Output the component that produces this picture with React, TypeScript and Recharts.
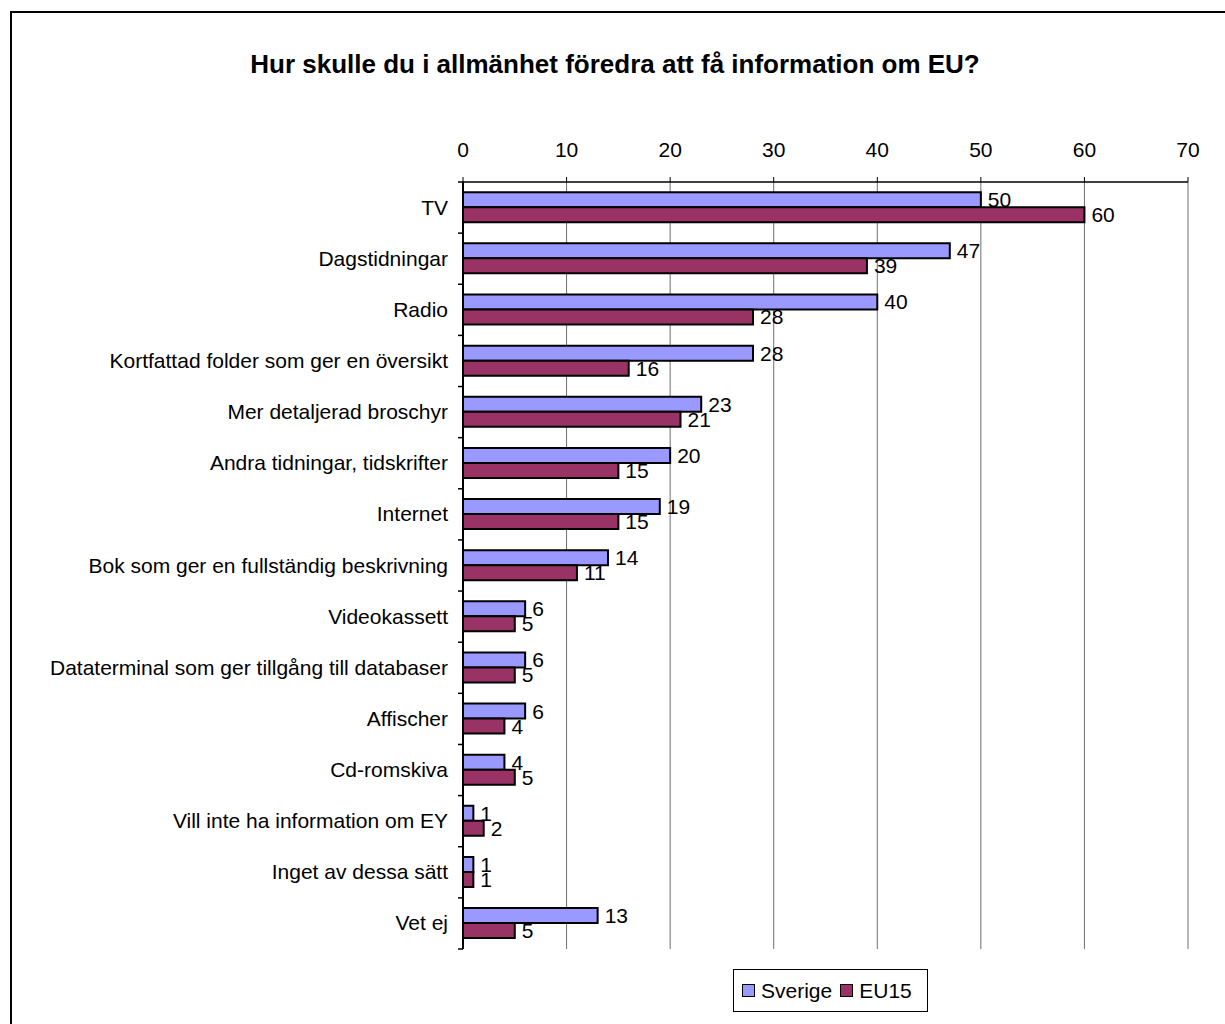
import { Bar, BarChart, CartesianGrid, LabelList, XAxis, YAxis } from "recharts";

const CATEGORIES = [
  "TV",
  "Dagstidningar",
  "Radio",
  "Kortfattad folder som ger en översikt",
  "Mer detaljerad broschyr",
  "Andra tidningar, tidskrifter",
  "Internet",
  "Bok som ger en fullständig beskrivning",
  "Videokassett",
  "Dataterminal som ger tillgång till databaser",
  "Affischer",
  "Cd-romskiva",
  "Vill inte ha information om EY",
  "Inget av dessa sätt",
  "Vet ej",
];

const SVERIGE = [50, 47, 40, 28, 23, 20, 19, 14, 6, 6, 6, 4, 1, 1, 13];
const EU15 = [60, 39, 28, 16, 21, 15, 15, 11, 5, 5, 4, 5, 2, 1, 5];

const X_TICKS = [0, 10, 20, 30, 40, 50, 60, 70];

const TITLE = "Hur skulle du i allmänhet föredra att få information om EU?";

const COLORS = { sverige: "#9999FF", eu15: "#993366" };

const FONT = "'Liberation Sans', Arial, sans-serif";
const FS = 21;

// plot area in page pixels
const W = 1225;
const H = 1024;
const PLOT_LEFT = 463;
const PLOT_RIGHT = 1188;
const PLOT_TOP = 182;
const PLOT_BOTTOM = 949;
const TOP_AXIS_H = 40;
const Y_AXIS_W = 300;
const BAND = (PLOT_BOTTOM - PLOT_TOP) / CATEGORIES.length;

const data = CATEGORIES.map((name, i) => ({ name, sverige: SVERIGE[i], eu15: EU15[i] }));

function CategoryTick(props: any) {
  const { x, y, payload, index } = props;
  const last = index === CATEGORIES.length - 1;
  return (
    <g>
      <line x1={PLOT_LEFT - 5} x2={PLOT_LEFT} y1={y - BAND / 2} y2={y - BAND / 2} stroke="#000" strokeWidth={1.5} />
      {last && (
        <line x1={PLOT_LEFT - 5} x2={PLOT_LEFT} y1={y + BAND / 2} y2={y + BAND / 2} stroke="#000" strokeWidth={1.5} />
      )}
      <text x={x} y={y} dy={7} textAnchor="end" fontSize={FS} fill="#000" fontFamily={FONT}>
        {payload.value}
      </text>
    </g>
  );
}

function LegendItem({ color, label }: { color: string; label: string }) {
  return (
    <span style={{ display: "inline-flex", alignItems: "center", marginRight: 8 }}>
      <span
        style={{
          display: "inline-block",
          width: 11,
          height: 11,
          background: color,
          border: "1.5px solid #000",
          marginRight: 6,
        }}
      />
      {label}
    </span>
  );
}

export default function App() {
  return (
    <div
      style={{
        position: "absolute",
        left: 0,
        top: 0,
        width: W,
        height: H,
        overflow: "hidden",
        background: "#fff",
        fontFamily: FONT,
      }}
    >
      <div
        style={{
          position: "absolute",
          left: 10,
          top: 11,
          width: 1400,
          height: 1200,
          border: "2px solid #000",
        }}
      />
      <div
        style={{
          position: "absolute",
          left: 0,
          width: 1230,
          top: 49,
          textAlign: "center",
          fontWeight: "bold",
          fontSize: 26,
          color: "#000",
        }}
      >
        {TITLE}
      </div>

      <div style={{ position: "absolute", left: 0, top: 0 }}>
        <BarChart
          width={W}
          height={H}
          data={data}
          layout="vertical"
          barCategoryGap="20%"
          barGap={0}
          margin={{
            top: PLOT_TOP - TOP_AXIS_H,
            left: PLOT_LEFT - Y_AXIS_W,
            right: W - PLOT_RIGHT,
            bottom: H - PLOT_BOTTOM,
          }}
        >
          <CartesianGrid xAxisId="top" yAxisId="cat" horizontal={false} stroke="#6f6f6f" strokeWidth={1} />
          <XAxis
            xAxisId="top"
            type="number"
            orientation="top"
            domain={[0, 70]}
            ticks={X_TICKS}
            height={TOP_AXIS_H}
            tickSize={5}
            tickMargin={20}
            axisLine={{ stroke: "#000", strokeWidth: 1.5 }}
            tickLine={{ stroke: "#000", strokeWidth: 1 }}
            tick={{ fontSize: FS, fill: "#000", fontFamily: FONT }}
          />
          <XAxis
            xAxisId="bottom"
            type="number"
            orientation="bottom"
            domain={[0, 70]}
            height={0}
            tick={false}
            tickLine={false}
            axisLine={{ stroke: "#808080", strokeWidth: 2 }}
          />
          <YAxis
            yAxisId="cat"
            type="category"
            dataKey="name"
            width={Y_AXIS_W}
            tickLine={false}
            tickSize={0}
            tickMargin={15}
            interval={0}
            axisLine={{ stroke: "#000", strokeWidth: 2 }}
            tick={<CategoryTick />}
          />
          <YAxis
            yAxisId="right"
            type="category"
            dataKey="name"
            orientation="right"
            width={0}
            tick={false}
            tickLine={false}
            axisLine={{ stroke: "#808080", strokeWidth: 2 }}
          />
          <Bar
            xAxisId="top"
            yAxisId="cat"
            dataKey="sverige"
            name="Sverige"
            fill={COLORS.sverige}
            stroke="#000"
            strokeWidth={2}
            isAnimationActive={false}
          >
            <LabelList dataKey="sverige" position="right" offset={7} fontSize={FS} fill="#000" fontFamily={FONT} />
          </Bar>
          <Bar
            xAxisId="top"
            yAxisId="cat"
            dataKey="eu15"
            name="EU15"
            fill={COLORS.eu15}
            stroke="#000"
            strokeWidth={2}
            isAnimationActive={false}
          >
            <LabelList dataKey="eu15" position="right" offset={7} fontSize={FS} fill="#000" fontFamily={FONT} />
          </Bar>
        </BarChart>
      </div>

      <div
        style={{
          position: "absolute",
          left: 733,
          top: 969,
          width: 195,
          height: 43,
          border: "1.5px solid #000",
          display: "flex",
          alignItems: "center",
          paddingLeft: 8,
          boxSizing: "border-box",
          fontSize: FS,
          color: "#000",
        }}
      >
        <LegendItem color={COLORS.sverige} label="Sverige" />
        <LegendItem color={COLORS.eu15} label="EU15" />
      </div>
    </div>
  );
}
